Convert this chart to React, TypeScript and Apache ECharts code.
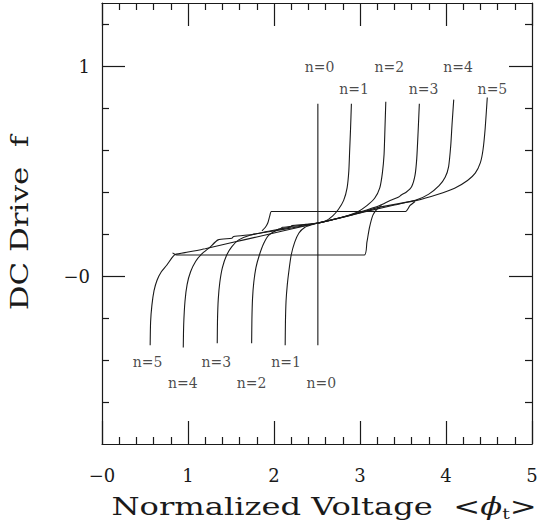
import React, { useEffect, useRef } from "react";
import * as echarts from "echarts";

const xMajor = [0, 1, 2, 3, 4, 5];
const xMinor = [0.2, 0.4, 0.6, 0.8, 1.2, 1.4, 1.6, 1.8, 2.2, 2.4, 2.6, 2.8, 3.2, 3.4, 3.6, 3.8, 4.2, 4.4, 4.6, 4.8];
const xTickLabels = ["−0", "1", "2", "3", "4", "5"];
const yMajor = [0, 1];
const yMinor = [-0.6, -0.4, -0.2, 0.2, 0.4, 0.6, 0.8, 1.2];
const yTickLabels = ["−0", "1"];

const curveN0 = [[2.51, -0.33], [2.51, 0.82]];
const curveN1 = [[2.13, -0.33], [2.133, -0.22], [2.14, -0.12], [2.155, -0.04], [2.175, 0.03], [2.2, 0.1], [2.24, 0.16], [2.29, 0.205], [2.36, 0.232], [2.43, 0.243], [2.51, 0.252], [2.6, 0.262], [2.68, 0.285], [2.75, 0.318], [2.81, 0.36], [2.85, 0.42], [2.87, 0.5], [2.88, 0.6], [2.89, 0.7], [2.9, 0.82]];
const curveN2 = [[1.74, -0.32], [1.743, -0.21], [1.75, -0.11], [1.765, -0.03], [1.79, 0.04], [1.83, 0.1], [1.88, 0.155], [1.94, 0.195], [2.05, 0.222], [2.19, 0.232], [2.21, 0.24], [2.35, 0.245], [2.51, 0.252], [2.65, 0.265], [2.82, 0.283], [2.97, 0.305], [3.08, 0.335], [3.17, 0.37], [3.23, 0.42], [3.26, 0.49], [3.28, 0.58], [3.29, 0.7], [3.3, 0.83]];
const curveN3 = [[1.34, -0.32], [1.343, -0.21], [1.352, -0.11], [1.37, -0.03], [1.4, 0.04], [1.45, 0.1], [1.51, 0.14], [1.59, 0.172], [1.72, 0.194], [1.9, 0.21], [2.07, 0.224], [2.1, 0.232], [2.3, 0.24], [2.51, 0.252], [2.75, 0.275], [3.0, 0.305], [3.23, 0.336], [3.35, 0.36], [3.45, 0.376], [3.48, 0.386], [3.54, 0.4], [3.6, 0.425], [3.64, 0.48], [3.66, 0.56], [3.675, 0.68], [3.69, 0.82]];
const curveN4 = [[0.945, -0.34], [0.95, -0.23], [0.965, -0.12], [0.99, -0.04], [1.03, 0.02], [1.09, 0.07], [1.16, 0.105], [1.25, 0.135], [1.35, 0.172], [1.51, 0.18], [1.53, 0.188], [1.75, 0.198], [2.0, 0.215], [2.25, 0.232], [2.51, 0.252], [2.8, 0.28], [3.1, 0.31], [3.4, 0.338], [3.66, 0.363], [3.8, 0.39], [3.92, 0.43], [3.99, 0.47], [4.03, 0.52], [4.055, 0.62], [4.07, 0.72], [4.09, 0.84]];
const curveN5 = [[0.56, -0.33], [0.565, -0.22], [0.58, -0.14], [0.605, -0.07], [0.64, -0.02], [0.69, 0.02], [0.75, 0.05], [0.81, 0.085], [0.85, 0.102], [1.0, 0.114], [1.2, 0.13], [1.5, 0.158], [1.8, 0.186], [2.1, 0.214], [2.51, 0.252], [2.9, 0.29], [3.23, 0.328], [3.66, 0.36], [3.9, 0.388], [4.1, 0.418], [4.25, 0.455], [4.34, 0.49], [4.4, 0.54], [4.43, 0.6], [4.455, 0.7], [4.48, 0.85]];
const loopLower = [[0.82, 0.11], [0.87, 0.1], [3.05, 0.1], [3.08, 0.16], [3.11, 0.23], [3.15, 0.29], [3.2, 0.32], [3.25, 0.335]];
const loopUpper = [[3.64, 0.355], [3.58, 0.335], [3.53, 0.307], [1.97, 0.307], [1.95, 0.285], [1.93, 0.255], [1.9, 0.232], [1.86, 0.215]];

const labelNames = ["n=0", "n=1", "n=2", "n=3", "n=4", "n=5", "n=0", "n=1", "n=2", "n=3", "n=4", "n=5"];
const labelX = [2.53, 2.93, 3.34, 3.74, 4.14, 4.54, 2.55, 2.14, 1.74, 1.33, 0.94, 0.53];
const labelY = [0.995, 0.89, 0.995, 0.89, 0.995, 0.89, -0.51, -0.41, -0.51, -0.41, -0.51, -0.41];

const xTitle = "Normalized Voltage  <{i|ϕ}{s|t}>";
const yTitle = "DC Drive  f";

const INK = "#1a1a1a";
const SERIF = "'DejaVu Serif', serif";

export default function App() {
  const ref = useRef<HTMLDivElement>(null);
  useEffect(() => {
    if (!ref.current) return;
    const chart = echarts.init(ref.current, undefined, { renderer: "svg" });
    const axisLine = { show: true, onZero: false, lineStyle: { color: INK, width: 1.2 } };
    const tickStyle = { color: INK, width: 1.2 };
    const majorX = (pos: string, labels: boolean) => ({
      type: "value", position: pos, min: 0, max: 5,
      axisLine,
      axisTick: { show: true, inside: true, length: 23, customValues: xMajor, lineStyle: tickStyle },
      axisLabel: labels
        ? { show: true, customValues: xMajor, margin: 22, fontFamily: SERIF, fontSize: 18, color: INK,
            formatter: (v: number) => xTickLabels[xMajor.indexOf(Math.round(v))] ?? "" }
        : { show: false },
      splitLine: { show: false },
    });
    const minorX = (pos: string) => ({
      type: "value", position: pos, min: 0, max: 5,
      axisLine: { show: false, onZero: false },
      axisTick: { show: true, inside: true, length: 7, customValues: xMinor, lineStyle: tickStyle },
      axisLabel: { show: false },
      splitLine: { show: false },
    });
    const majorY = (pos: string, labels: boolean) => ({
      type: "value", position: pos, min: -0.8, max: 1.3,
      axisLine,
      axisTick: { show: true, inside: true, length: 23, customValues: yMajor, lineStyle: tickStyle },
      axisLabel: labels
        ? { show: true, customValues: yMajor, margin: 12, fontFamily: SERIF, fontSize: 18, color: INK,
            formatter: (v: number) => yTickLabels[yMajor.indexOf(Math.round(v))] ?? "" }
        : { show: false },
      splitLine: { show: false },
    });
    const minorY = (pos: string) => ({
      type: "value", position: pos, min: -0.8, max: 1.3,
      axisLine: { show: false, onZero: false },
      axisTick: { show: true, inside: true, length: 7, customValues: yMinor, lineStyle: tickStyle },
      axisLabel: { show: false },
      splitLine: { show: false },
    });

    const line = (data: number[][]) => ({
      type: "line", data, xAxisIndex: 0, yAxisIndex: 0, showSymbol: false, symbol: "none",
      smooth: 0.2, lineStyle: { color: INK, width: 1.1 }, silent: true,
    });
    chart.setOption({
      animation: false,
      backgroundColor: "#ffffff",
      grid: { left: 102, right: 9, top: 3, bottom: 85, containLabel: false },
      xAxis: [majorX("bottom", true), minorX("bottom"), majorX("top", false), minorX("top")],
      yAxis: [majorY("left", true), minorY("left"), majorY("right", false), minorY("right")],
      graphic: [
        {
          type: "text", x: 324, y: 507, scaleX: 1.34, silent: true,
          style: {
            text: xTitle, fontFamily: SERIF, fontSize: 24, fill: INK, align: "center", verticalAlign: "middle",
            rich: {
              i: { fontFamily: SERIF, fontSize: 24, fontStyle: "italic", fill: INK },
              s: { fontFamily: SERIF, fontSize: 14, fill: INK, verticalAlign: "bottom", padding: [14, 0, 0, 0] },
            },
          },
        },
        {
          type: "text", x: 20, y: 223, rotation: Math.PI / 2, scaleX: 1.29, silent: true,
          style: { text: yTitle, fontFamily: SERIF, fontSize: 24, fill: INK, align: "center", verticalAlign: "middle" },
        },
      ],
      series: [
        line(curveN0), line(curveN1), line(curveN2), line(curveN3), line(curveN4), line(curveN5),
        line(loopLower), line(loopUpper),
        {
          type: "scatter", xAxisIndex: 0, yAxisIndex: 0, symbolSize: 0, silent: true,
          data: labelNames.map((n, i) => [labelX[i], labelY[i], n]),
          label: {
            show: true, position: "inside", formatter: (p: any) => p.data[2],
            fontFamily: SERIF, fontSize: 14, color: INK,
          },
        },
      ],
    });
    return () => chart.dispose();
  }, []);
  return <div ref={ref} style={{ position: "fixed", left: 0, top: 0, width: 541, height: 529, background: "#fff" }} />;
}
